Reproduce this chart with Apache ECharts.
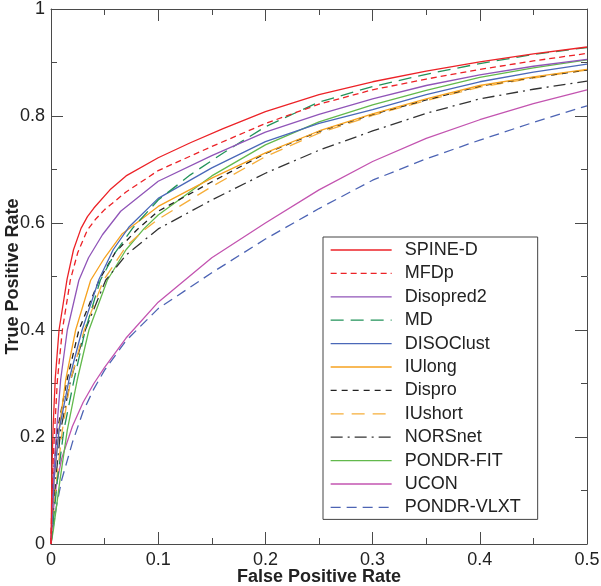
<!DOCTYPE html>
<html>
<head>
<meta charset="utf-8">
<script src="https://cdn.jsdelivr.net/npm/echarts@6/dist/echarts.min.js"></script>
<style>html,body{margin:0;padding:0;background:#fff}#c{width:601px;height:586px}</style>
</head>
<body>
<div id="c"></div>
<script>
// ---- data (FPR, TPR) ----
const seriesNames = ['SPINE-D','MFDp','Disopred2','MD','DISOClust','IUlong','Dispro','IUshort','NORSnet','PONDR-FIT','UCON','PONDR-VLXT'];
const xTickLabels = ['0','0.1','0.2','0.3','0.4','0.5'];
const yTickLabels = ['0','0.2','0.4','0.6','0.8','1'];

const SPINE_D = [[0,0],[0.001,0.15],[0.002,0.22],[0.004,0.31],[0.0075,0.40],[0.015,0.495],[0.021,0.55],[0.028,0.59],[0.034,0.612],[0.04,0.628],[0.055,0.662],[0.07,0.688],[0.1,0.722],[0.13,0.75],[0.16,0.776],[0.2,0.808],[0.25,0.84],[0.3,0.864],[0.35,0.884],[0.4,0.901],[0.45,0.916],[0.5,0.929]];
const MFDp = [[0,0],[0.0012,0.12],[0.0034,0.213],[0.006,0.307],[0.0106,0.40],[0.018,0.493],[0.025,0.545],[0.034,0.587],[0.042,0.608],[0.05,0.625],[0.07,0.658],[0.1,0.698],[0.15,0.743],[0.2,0.786],[0.25,0.822],[0.3,0.849],[0.35,0.869],[0.4,0.887],[0.45,0.903],[0.5,0.917]];
const Disopred2 = [[0,0],[0.0022,0.12],[0.0053,0.213],[0.009,0.307],[0.0152,0.40],[0.026,0.493],[0.035,0.535],[0.048,0.578],[0.065,0.622],[0.1,0.678],[0.15,0.726],[0.2,0.77],[0.25,0.803],[0.3,0.832],[0.35,0.857],[0.4,0.877],[0.45,0.893],[0.5,0.906]];
const MD = [[0,0],[0.006,0.12],[0.012,0.213],[0.0215,0.307],[0.032,0.40],[0.046,0.493],[0.06,0.545],[0.076,0.59],[0.1,0.643],[0.13,0.69],[0.16,0.73],[0.2,0.78],[0.25,0.826],[0.3,0.855],[0.35,0.878],[0.4,0.898],[0.45,0.915],[0.5,0.928]];
const DISOClust = [[0,0],[0.0028,0.12],[0.0075,0.213],[0.0168,0.307],[0.029,0.40],[0.0448,0.495],[0.058,0.55],[0.073,0.593],[0.1,0.646],[0.15,0.703],[0.2,0.752],[0.25,0.786],[0.3,0.812],[0.35,0.84],[0.4,0.864],[0.45,0.882],[0.5,0.897]];
const IUlong = [[0,0],[0.0028,0.12],[0.0075,0.213],[0.0137,0.307],[0.023,0.40],[0.037,0.493],[0.05,0.535],[0.0665,0.58],[0.1,0.631],[0.15,0.684],[0.2,0.731],[0.25,0.772],[0.3,0.804],[0.35,0.832],[0.4,0.857],[0.45,0.873],[0.5,0.887]];
const Dispro = [[0,0],[0.0018,0.12],[0.006,0.213],[0.015,0.307],[0.026,0.40],[0.0448,0.493],[0.06,0.545],[0.08,0.587],[0.1,0.622],[0.15,0.677],[0.2,0.73],[0.25,0.771],[0.3,0.803],[0.35,0.83],[0.4,0.856],[0.45,0.872],[0.5,0.886]];
const IUshort = [[0,0],[0.0053,0.12],[0.0106,0.213],[0.0184,0.307],[0.031,0.40],[0.049,0.493],[0.07,0.556],[0.087,0.587],[0.1,0.607],[0.15,0.668],[0.2,0.724],[0.25,0.768],[0.3,0.801],[0.35,0.829],[0.4,0.854],[0.45,0.871],[0.5,0.886]];
const NORSnet = [[0,0],[0.0044,0.12],[0.009,0.213],[0.0184,0.307],[0.032,0.40],[0.051,0.493],[0.07,0.54],[0.1,0.589],[0.15,0.643],[0.2,0.693],[0.25,0.736],[0.3,0.772],[0.35,0.805],[0.4,0.832],[0.45,0.85],[0.5,0.865]];
const PONDR_FIT = [[0,0],[0.0022,0.026],[0.0084,0.12],[0.0152,0.213],[0.0245,0.307],[0.0354,0.40],[0.0525,0.493],[0.07,0.55],[0.087,0.59],[0.1,0.615],[0.15,0.688],[0.2,0.746],[0.25,0.789],[0.3,0.821],[0.35,0.848],[0.4,0.872],[0.45,0.89],[0.5,0.905]];
const UCON = [[0,0],[0.002,0.06],[0.005,0.11],[0.01,0.16],[0.02,0.22],[0.03,0.265],[0.04,0.30],[0.05,0.33],[0.07,0.385],[0.1,0.452],[0.15,0.535],[0.2,0.60],[0.25,0.662],[0.3,0.715],[0.35,0.758],[0.4,0.793],[0.45,0.823],[0.5,0.849]];
const PONDR_VLXT = [[0,0],[0.002,0.03],[0.005,0.07],[0.01,0.12],[0.02,0.19],[0.03,0.248],[0.04,0.29],[0.05,0.325],[0.07,0.38],[0.1,0.44],[0.15,0.507],[0.2,0.57],[0.25,0.627],[0.3,0.68],[0.35,0.72],[0.4,0.755],[0.45,0.788],[0.5,0.819]];

const seriesData = [SPINE_D, MFDp, Disopred2, MD, DISOClust, IUlong, Dispro, IUshort, NORSnet, PONDR_FIT, UCON, PONDR_VLXT];

// ---- styles ----
const styles = [
  {color:'#ec2227', type:'solid'},
  {color:'#ec2227', type:[6,4]},
  {color:'#9055b8', type:'solid'},
  {color:'#22935a', type:[13,7]},
  {color:'#4a68b8', type:'solid'},
  {color:'#f6a21f', type:'solid'},
  {color:'#222222', type:[6,5]},
  {color:'#f6ae3a', type:[13,8]},
  {color:'#333333', type:[12,5,2,5]},
  {color:'#62b94c', type:'solid'},
  {color:'#c354b0', type:'solid'},
  {color:'#4d64b4', type:[10,6]}
];

const chart = echarts.init(document.getElementById('c'), null, {renderer:'canvas'});
const axisCol = '#4a4a4a';
const fontFam = 'Liberation Sans, Arial, sans-serif';

function xFmt(v){ const i = Math.round(v*10); return xTickLabels[i] !== undefined ? xTickLabels[i] : ''; }
function yFmt(v){ const i = Math.round(v*5); return yTickLabels[i] !== undefined ? yTickLabels[i] : ''; }

const option = {
  animation: false,
  backgroundColor: '#fff',
  grid: {left: 51, top: 9, width: 536, height: 535, containLabel: false, outerBoundsMode: 'none'},
  xAxis: [
    {type:'value', min:0, max:0.5, interval:0.1, position:'bottom',
     axisLine:{show:true, onZero:false, lineStyle:{color:axisCol, width:1}},
     axisTick:{show:true, inside:true, length:12, lineStyle:{color:axisCol}},
     minorTick:{show:true, splitNumber:2, length:6, lineStyle:{color:axisCol}},
     splitLine:{show:false}, minorSplitLine:{show:false},
     axisLabel:{formatter:xFmt, color:'#222', fontSize:18, fontFamily:fontFam, margin:7},
     name:'False Positive Rate', nameLocation:'middle', nameGap:24, nameMoveOverlap:false,
     nameTextStyle:{color:'#222', fontSize:18, fontWeight:'bold', fontFamily:fontFam}},
    {type:'value', min:0, max:0.5, interval:0.1, position:'top',
     axisLine:{show:true, onZero:false, lineStyle:{color:axisCol, width:1}},
     axisTick:{show:true, inside:true, length:12, lineStyle:{color:axisCol}},
     minorTick:{show:true, splitNumber:2, length:6, lineStyle:{color:axisCol}},
     splitLine:{show:false}, axisLabel:{show:false}}
  ],
  yAxis: [
    {type:'value', min:0, max:1, interval:0.2, position:'left',
     axisLine:{show:true, onZero:false, lineStyle:{color:axisCol, width:1}},
     axisTick:{show:true, inside:true, length:12, lineStyle:{color:axisCol}},
     minorTick:{show:true, splitNumber:2, length:6, lineStyle:{color:axisCol}},
     splitLine:{show:false}, minorSplitLine:{show:false},
     axisLabel:{formatter:yFmt, color:'#222', fontSize:18, fontFamily:fontFam, margin:6},
     name:'True Positive Rate', nameLocation:'middle', nameGap:29, nameRotate:90, nameMoveOverlap:false,
     nameTextStyle:{color:'#222', fontSize:18, fontWeight:'bold', fontFamily:fontFam}},
    {type:'value', min:0, max:1, interval:0.2, position:'right',
     axisLine:{show:true, onZero:false, lineStyle:{color:axisCol, width:1}},
     axisTick:{show:true, inside:true, length:12, lineStyle:{color:axisCol}},
     minorTick:{show:true, splitNumber:2, length:6, lineStyle:{color:axisCol}},
     splitLine:{show:false}, axisLabel:{show:false}}
  ],
  legend: {
    orient:'vertical', left:323, top:237,
    data: seriesNames,
    itemWidth:61, itemHeight:14, itemGap:5.4,
    padding:[4,17,3,7],
    borderColor:'#444', borderWidth:1, backgroundColor:'#fff',
    itemStyle:{color:'transparent', borderColor:'transparent', borderWidth:0, opacity:0},
    lineStyle:{width:1.3},
    textStyle:{color:'#222', fontSize:18, lineHeight:18, fontFamily:fontFam, padding:[0,0,0,8]},
    selectedMode:false
  },
  series: seriesNames.map((n,i)=>({
    name:n, type:'line', data:seriesData[i], xAxisIndex:0, yAxisIndex:0,
    showSymbol:false, symbol:'none', smooth:false,
    lineStyle:{color:styles[i].color, width:1.3, type:styles[i].type},
    itemStyle:{color:styles[i].color},
    z: 20 - i
  }))
};
chart.setOption(option);
</script>
</body>
</html>
